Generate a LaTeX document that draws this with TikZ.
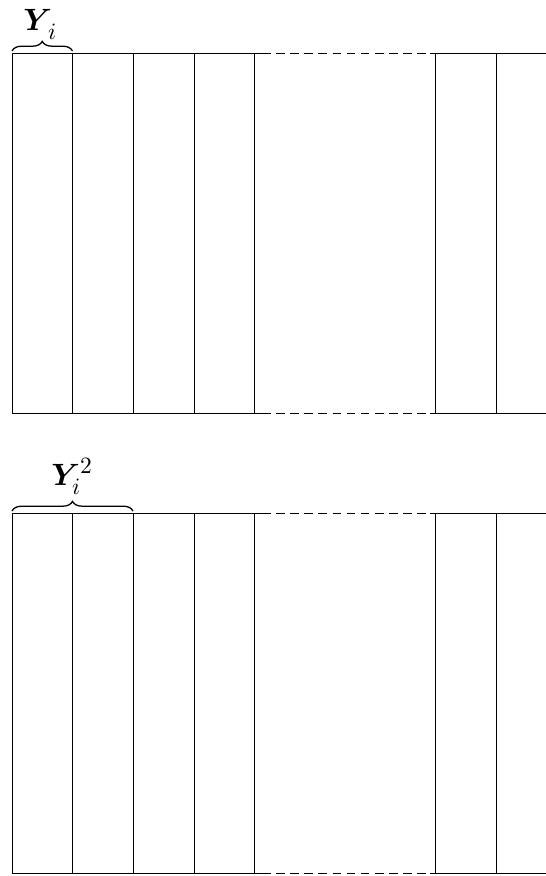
\documentclass[tikz,border=0pt]{standalone}
\usepackage{amsmath,amssymb,bm}
\usetikzlibrary{decorations.pathreplacing}
\begin{document}
\begin{tikzpicture}[x=0.4675pt,y=-0.4675pt,
  cell/.style={line width=0.45pt},
  gap/.style={line width=0.45pt,dash pattern=on 4pt off 2.6pt},
  brc/.style={decorate,decoration={brace,amplitude=4.5pt},line width=0.6pt},
  lbl/.style={font=\fontsize{15}{18}\selectfont,inner sep=0pt,anchor=base west}]
\useasboundingbox (0,0) rectangle (546,876);
\foreach \t/\b in {53/413,513/873}{
  \draw[cell] (12,\t) -- (262,\t) (430,\t) -- (546,\t);
  \draw[cell] (12,\b) -- (262,\b) (430,\b) -- (546,\b);
  \draw[gap] (262,\t) -- (430,\t);
  \draw[gap] (262,\b) -- (430,\b);
  \foreach \x in {12,72.5,133,194,254.5,435.5,496}{
    \draw[cell] (\x,\t) -- (\x,\b);
  }
}
\draw[brc] (12,51) -- coordinate (b1) (72.5,51);
\node[lbl] (l1) at (23,30) {${\bm{Y}}^{}_{\,i}$};
\draw[brc] (12,511) -- coordinate (b2) (133,511);
\node[lbl] (l2) at (51,485) {${\bm{Y}}_i^2$};
\end{tikzpicture}
\end{document}
